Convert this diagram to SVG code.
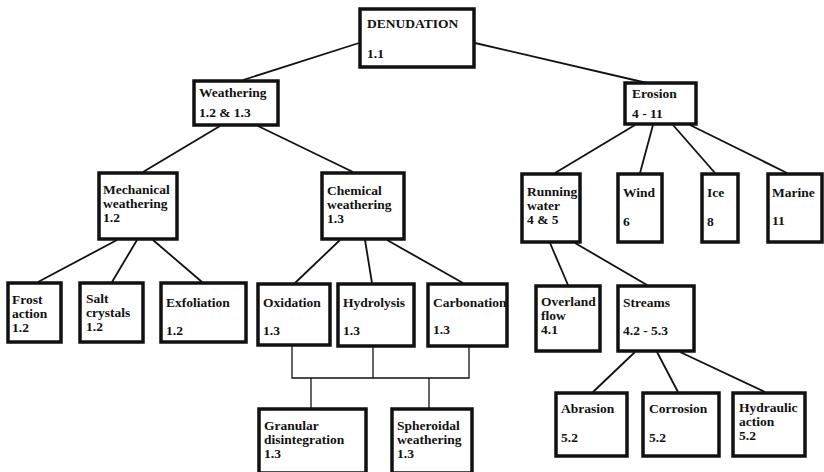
<svg xmlns="http://www.w3.org/2000/svg" width="824" height="472" viewBox="0 0 824 472">
<style>
.box rect{fill:#fff;stroke:#111;stroke-width:3.5}
.box text{font-family:"Liberation Serif","Times New Roman",serif;font-weight:bold;font-size:13.5px;fill:#111}
#connectors line,#connectors polyline{stroke:#111;stroke-width:1.8;fill:none}
#connectors .br{stroke-width:1.3}
</style>
<rect width="824" height="472" fill="#fff"/>
<g id="connectors">
<line x1="359" y1="43" x2="243" y2="80"/>
<line x1="475" y1="43" x2="647" y2="83"/>
<line x1="220" y1="126" x2="143" y2="172"/>
<line x1="258" y1="126" x2="353" y2="172"/>
<line x1="117" y1="240" x2="38" y2="282"/>
<line x1="137" y1="240" x2="112" y2="282"/>
<line x1="153" y1="240" x2="202" y2="282"/>
<line x1="340" y1="240" x2="295" y2="283"/>
<line x1="365" y1="240" x2="372" y2="283"/>
<line x1="387" y1="240" x2="463" y2="283"/>
<polyline class="br" points="292,346 292,378 469,378 469,347"/>
<line class="br" x1="373" y1="347" x2="373" y2="378"/>
<line class="br" x1="311" y1="378" x2="311" y2="408"/>
<line class="br" x1="429" y1="378" x2="429" y2="408"/>
<line x1="635" y1="125" x2="555" y2="173"/>
<line x1="653" y1="125" x2="640" y2="173"/>
<line x1="673" y1="125" x2="715" y2="173"/>
<line x1="690" y1="125" x2="787" y2="173"/>
<line x1="550" y1="243" x2="568" y2="285"/>
<line x1="575" y1="243" x2="647" y2="285"/>
<line x1="635" y1="352" x2="593" y2="392"/>
<line x1="657" y1="352" x2="678" y2="392"/>
<line x1="680" y1="352" x2="765" y2="392"/>
</g>
<g id="denudation" class="box"><rect x="360" y="9" width="114" height="58"/><text x="367" y="28">DENUDATION</text><text x="367" y="58">1.1</text></g>
<g id="weathering" class="box"><rect x="194" y="81" width="84" height="44"/><text x="199" y="97">Weathering</text><text x="199" y="117">1.2 &amp; 1.3</text></g>
<g id="erosion" class="box"><rect x="625" y="83" width="71" height="41"/><text x="632" y="98">Erosion</text><text x="632" y="118">4 - 11</text></g>
<g id="mechanical" class="box"><rect x="99" y="173" width="78" height="66"/><text x="103" y="194">Mechanical</text><text x="103" y="208">weathering</text><text x="103" y="222">1.2</text></g>
<g id="chemical" class="box"><rect x="322" y="173" width="82" height="66"/><text x="327" y="195">Chemical</text><text x="327" y="209">weathering</text><text x="327" y="223">1.3</text></g>
<g id="running" class="box"><rect x="522" y="174" width="58" height="68"/><text x="527" y="196">Running</text><text x="527" y="210">water</text><text x="527" y="224">4 &amp; 5</text></g>
<g id="wind" class="box"><rect x="618" y="174" width="44" height="68"/><text x="623" y="197">Wind</text><text x="623" y="226">6</text></g>
<g id="ice" class="box"><rect x="702" y="174" width="36" height="68"/><text x="707" y="197">Ice</text><text x="707" y="226">8</text></g>
<g id="marine" class="box"><rect x="768" y="174" width="54" height="68"/><text x="772" y="197">Marine</text><text x="772" y="225">11</text></g>
<g id="frost" class="box"><rect x="8" y="283" width="53" height="59"/><text x="12" y="304">Frost</text><text x="12" y="318">action</text><text x="12" y="332">1.2</text></g>
<g id="salt" class="box"><rect x="80" y="283" width="63" height="59"/><text x="86" y="303">Salt</text><text x="86" y="317">crystals</text><text x="86" y="331">1.2</text></g>
<g id="exfoliation" class="box"><rect x="161" y="283" width="85" height="59"/><text x="166" y="307">Exfoliation</text><text x="166" y="335">1.2</text></g>
<g id="oxidation" class="box"><rect x="258" y="284" width="72" height="61"/><text x="263" y="307">Oxidation</text><text x="263" y="335">1.3</text></g>
<g id="hydrolysis" class="box"><rect x="338" y="284" width="76" height="62"/><text x="343" y="307">Hydrolysis</text><text x="343" y="335">1.3</text></g>
<g id="carbonation" class="box"><rect x="428" y="284" width="79" height="62"/><text x="433" y="307">Carbonation</text><text x="433" y="334">1.3</text></g>
<g id="granular" class="box"><rect x="259" y="409" width="107" height="64"/><text x="264" y="430">Granular</text><text x="264" y="444">disintegration</text><text x="264" y="458">1.3</text></g>
<g id="spheroidal" class="box"><rect x="392" y="409" width="80" height="64"/><text x="397" y="430">Spheroidal</text><text x="397" y="444">weathering</text><text x="397" y="458">1.3</text></g>
<g id="overland" class="box"><rect x="536" y="286" width="64" height="65"/><text x="541" y="306">Overland</text><text x="541" y="320">flow</text><text x="541" y="334">4.1</text></g>
<g id="streams" class="box"><rect x="618" y="286" width="76" height="65"/><text x="623" y="307">Streams</text><text x="623" y="335">4.2 - 5.3</text></g>
<g id="abrasion" class="box"><rect x="556" y="393" width="71" height="63"/><text x="561" y="413">Abrasion</text><text x="561" y="442">5.2</text></g>
<g id="corrosion" class="box"><rect x="643" y="393" width="76" height="63"/><text x="649" y="413">Corrosion</text><text x="649" y="442">5.2</text></g>
<g id="hydraulic" class="box"><rect x="733" y="393" width="72" height="63"/><text x="739" y="412">Hydraulic</text><text x="739" y="426">action</text><text x="739" y="440">5.2</text></g>
</svg>
